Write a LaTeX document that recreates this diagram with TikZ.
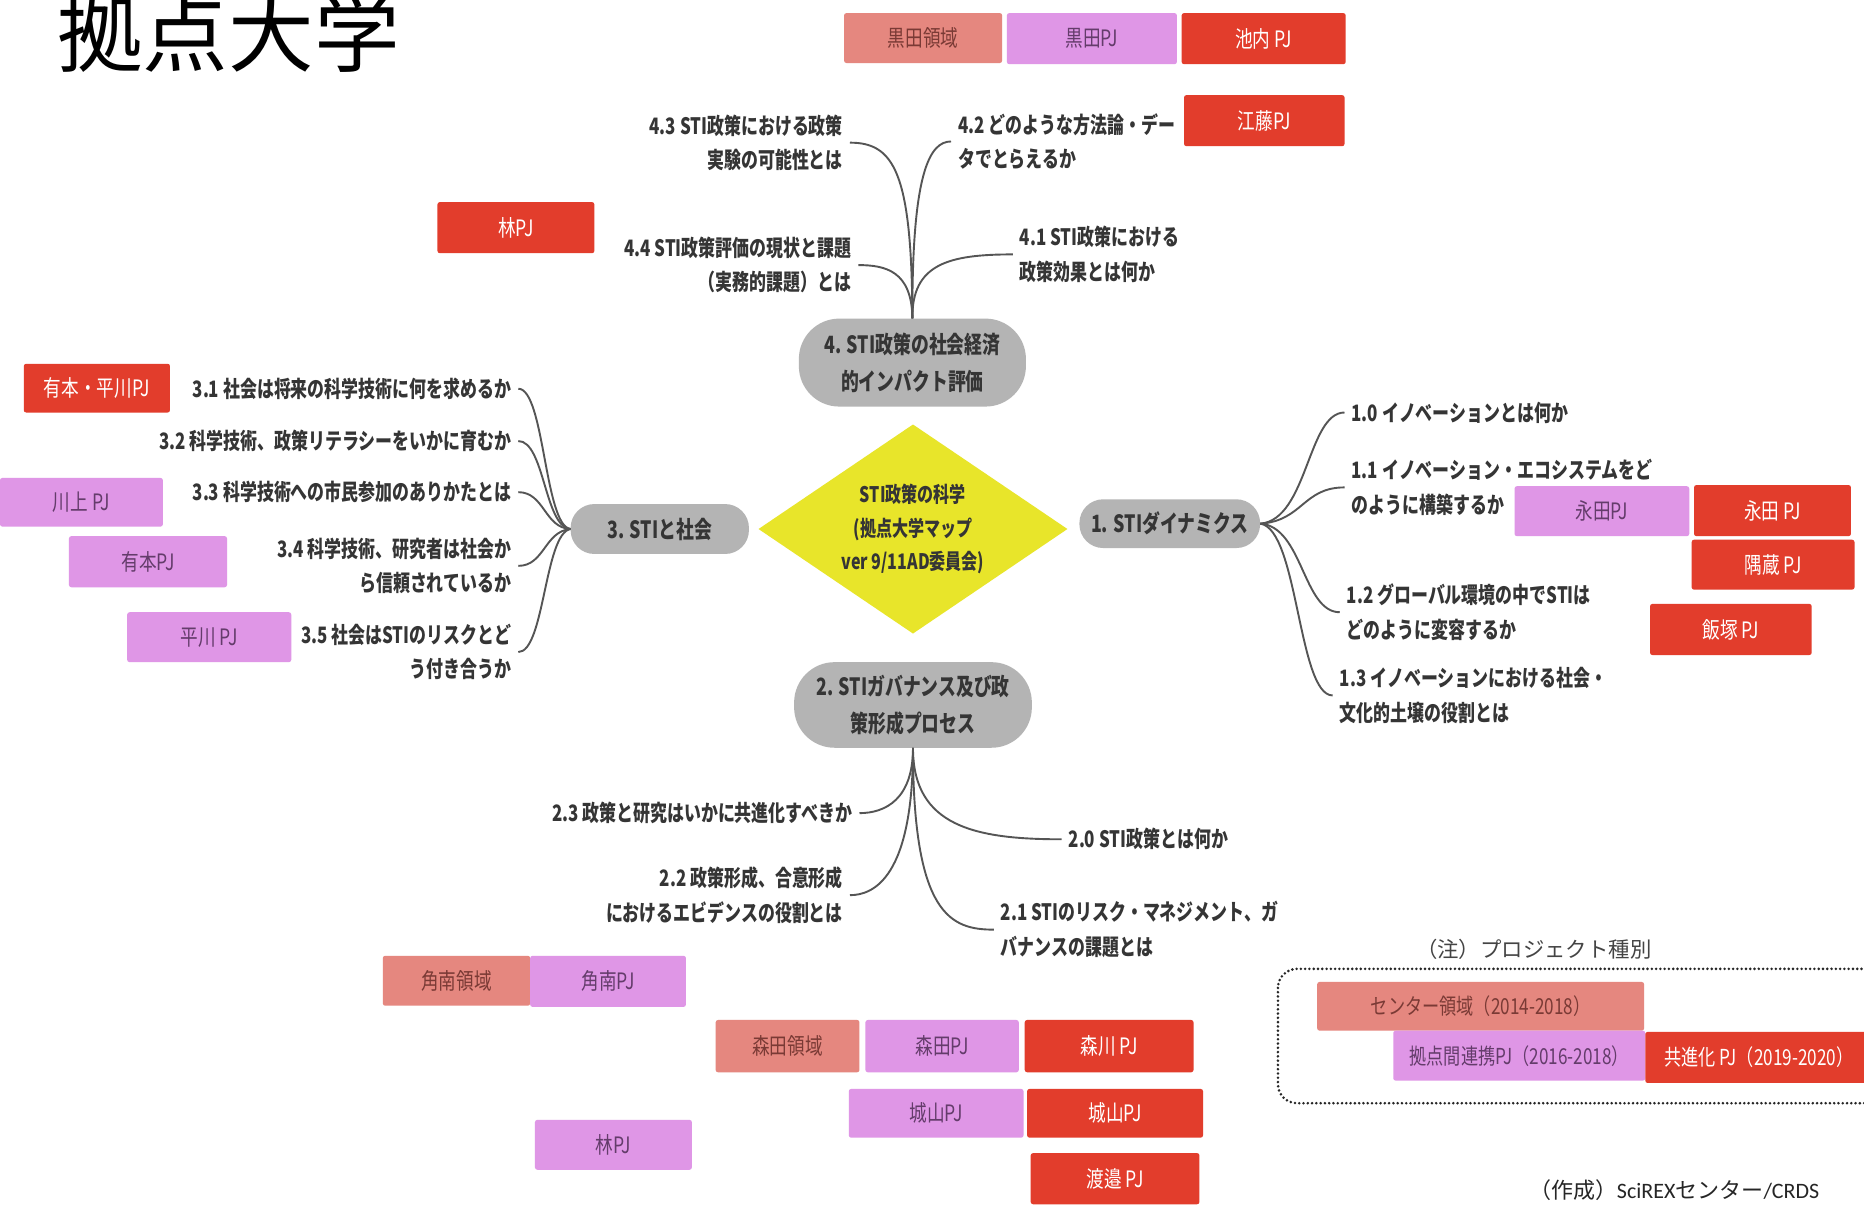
\documentclass[tikz,border=0pt]{standalone}
\usepackage{fontspec}
\newfontfamily\jc[FakeStretch=0.78]{Noto Sans CJK JP}
\newfontfamily\jcs[FakeStretch=0.75]{Noto Sans CJK JP}
\newfontfamily\jn{Noto Sans CJK JP}
\newfontfamily\lat{Carlito}
\usetikzlibrary{shapes.geometric}
\definecolor{salmon}{HTML}{E5877F}
\definecolor{violetpj}{HTML}{DF96E6}
\definecolor{redpj}{HTML}{E23D2C}
\definecolor{topicgray}{HTML}{B4B4B4}
\definecolor{txt}{HTML}{353535}
\definecolor{diayel}{HTML}{E8E52A}
\definecolor{linegray}{HTML}{555555}
\definecolor{salmontext}{HTML}{7A3A35}
\definecolor{viotext}{HTML}{643C6B}
\definecolor{notegray}{HTML}{444444}
\tikzset{
  pjbox/.style={draw=none, rounded corners=2pt, inner sep=0pt, font=\jc\fontsize{19}{22}\selectfont},
  salbox/.style={pjbox, fill=salmon, text=salmontext},
  viobox/.style={pjbox, fill=violetpj, text=viotext},
  redbox/.style={pjbox, fill=redpj, text=white},
  sz/.style 2 args={minimum width=#1pt, minimum height=#2pt},
  topic/.style={fill=topicgray, inner sep=0pt, align=center, text=txt, font=\jcs\bfseries\fontsize{20}{31}\selectfont},
  sub/.style={font=\jcs\bfseries\fontsize{19}{29}\selectfont, text=txt, inner sep=0pt, outer xsep=6pt, outer ysep=0pt},
  subL/.style={sub, anchor=east, align=right},
  subR/.style={sub, anchor=west, align=left},
  conn/.style={draw=linegray, line width=1.6pt}
}
\begin{document}
\begin{tikzpicture}[x=1pt, y=-1pt]
\useasboundingbox (0,0) rectangle (1568,1018);
\fill[white] (0,0) rectangle (1568,1018);

% title
\node[anchor=base west, inner sep=0pt, font=\jn\fontsize{72}{72}\selectfont] (title) at (48,55) {拠点大学};

% centre
\node[diamond, fill=diayel, minimum width=260pt, minimum height=176pt, inner sep=0pt, aspect=1.48, align=center, text=txt, font=\jcs\bfseries\fontsize{18}{28.5}\selectfont] (core) at (768,445) {STI政策の科学\\(拠点大学マップ\\ver 9/11AD委員会)};

% topics
\node[topic, rounded corners=34pt, sz={191}{74}] (t4) at (767.5,305) {4. STI政策の社会経済\\的インパクト評価};
\node[topic, rounded corners=20pt, sz={150}{42}] (t3) at (555,445) {3. STIと社会};
\node[topic, rounded corners=20pt, sz={152}{41}] (t1) at (984,440.5) {1. STIダイナミクス};
\node[topic, rounded corners=34pt, sz={200}{72}] (t2) at (768,593) {2. STIガバナンス及び政\\策形成プロセス};

% topic 4 subtopics
\node[subL] (s43) at (715,120) {4.3 STI政策における政策\\実験の可能性とは};
\node[subL] (s44) at (722,223) {4.4 STI政策評価の現状と課題\\（実務的課題）とは};
\node[subR] (s42) at (800,119) {4.2 どのような方法論・デー\\タでとらえるか};
\node[subR] (s41) at (852,214) {4.1 STI政策における\\政策効果とは何か};
\draw[conn] (t4.north) .. controls (767,145) and (752,120) .. (s43.east);
\draw[conn] (t4.north) .. controls (767,145) and (782,119) .. (s42.west);
\draw[conn] (t4.north) .. controls (767,228) and (745,223) .. (s44.east);
\draw[conn] (t4.north) .. controls (767,222) and (798,214) .. (s41.west);

% topic 3 subtopics
\node[subL] (s31) at (436,327) {3.1 社会は将来の科学技術に何を求めるか};
\node[subL] (s32) at (436,371) {3.2 科学技術、政策リテラシーをいかに育むか};
\node[subL] (s33) at (436,414) {3.3 科学技術への市民参加のありかたとは};
\node[subL] (s34) at (436,476) {3.4 科学技術、研究者は社会か\\ら信頼されているか};
\node[subL] (s35) at (436,548.5) {3.5 社会はSTIのリスクとど\\う付き合うか};
\draw[conn] (t3.west) .. controls (458,442) and (458,327) .. (s31.east);
\draw[conn] (t3.west) .. controls (458,443) and (458,371) .. (s32.east);
\draw[conn] (t3.west) .. controls (458,444) and (458,414) .. (s33.east);
\draw[conn] (t3.west) .. controls (458,447) and (458,476) .. (s34.east);
\draw[conn] (t3.west) .. controls (458,449) and (458,548.5) .. (s35.east);

% topic 1 subtopics
\node[subR] (s10) at (1131,347) {1.0 イノベーションとは何か};
\node[subR] (s11) at (1131,410) {1.1 イノベーション・エコシステムをど\\のように構築するか};
\node[subR] (s12) at (1127,515) {1.2 グローバル環境の中でSTIは\\どのように変容するか};
\node[subR] (s13) at (1121,585) {1.3 イノベーションにおける社会・\\文化的土壌の役割とは};
\draw[conn] (t1.east) .. controls (1100,437) and (1100,347) .. (s10.west);
\draw[conn] (t1.east) .. controls (1096,438) and (1096,410) .. (s11.west);
\draw[conn] (t1.east) .. controls (1096,443) and (1096,515) .. (s12.west);
\draw[conn] (t1.east) .. controls (1092,445) and (1092,585) .. (s13.west);

% topic 2 subtopics
\node[subL] (s23) at (723,684) {2.3 政策と研究はいかに共進化すべきか};
\node[subR] (s20) at (893,706) {2.0 STI政策とは何か};
\node[subL] (s22) at (715,753) {2.2 政策形成、合意形成\\におけるエビデンスの役割とは};
\node[subR] (s21) at (836,782) {2.1 STIのリスク・マネジメント、ガ\\バナンスの課題とは};
\draw[conn] (t2.south) .. controls (768,672) and (745,684) .. (s23.east);
\draw[conn] (t2.south) .. controls (768,695) and (820,706) .. (s20.west);
\draw[conn] (t2.south) .. controls (768,738) and (735,753) .. (s22.east);
\draw[conn] (t2.south) .. controls (768,770) and (800,782) .. (s21.west);

% project boxes top
\node[salbox, sz={133}{42}] (kurodaR) at (776.5,32) {黒田領域};
\node[viobox, sz={143}{43}] (kurodaP) at (918.5,32.5) {黒田PJ};
\node[redbox, sz={138}{43}] (ikeuchi) at (1063,32.5) {池内 PJ};
\node[redbox, sz={135}{43}] (eto) at (1063.5,101.5) {江藤PJ};
\node[redbox, sz={132}{43}] (hayashiR) at (434,191.5) {林PJ};

% left
\node[redbox, sz={123}{41}] (arihira) at (81.5,326.5) {有本・平川PJ};
\node[viobox, sz={137}{41}] (kawakami) at (68.5,422.5) {川上 PJ};
\node[viobox, sz={133}{43}] (arimoto) at (124.5,472.5) {有本PJ};
\node[viobox, sz={138}{42}] (hirakawa) at (176,536) {平川 PJ};

% right
\node[viobox, sz={147}{42}] (nagataV) at (1347.5,430) {永田PJ};
\node[redbox, sz={132}{43}] (nagataR) at (1491,429.5) {永田 PJ};
\node[redbox, sz={137}{42}] (sumikura) at (1491.5,475) {隅蔵 PJ};
\node[redbox, sz={136}{43}] (iizuka) at (1456,529.5) {飯塚 PJ};

% bottom
\node[salbox, sz={124}{42}] (sunamiR) at (384,825) {角南領域};
\node[viobox, sz={131}{43}] (sunamiP) at (511.5,825.5) {角南PJ};
\node[salbox, sz={121}{44}] (moritaR) at (662.5,880) {森田領域};
\node[viobox, sz={129}{44}] (moritaP) at (792.5,880) {森田PJ};
\node[redbox, sz={142}{44}] (morikawa) at (933,880) {森川 PJ};
\node[viobox, sz={147}{41}] (shiroV) at (787.5,936.5) {城山PJ};
\node[redbox, sz={148}{41}] (shiroR) at (938,936.5) {城山PJ};
\node[viobox, sz={132}{42}] (hayashiV) at (516,963) {林PJ};
\node[redbox, sz={142}{43}] (watanabe) at (938,991.5) {渡邉 PJ};

% legend
\node[anchor=west, inner sep=0pt, text=notegray, font=\jn\fontsize{18}{18}\selectfont] (note) at (1191,799) {（注）プロジェクト種別};
\draw[line width=2.4pt, draw=black!85, dash pattern=on 0pt off 3.6pt, line cap=round, rounded corners=16pt] (1075,815) rectangle (1620,928);
\node[salbox, sz={275}{41}, font=\jc\fontsize{18.5}{22}\selectfont] (legC) at (1245.5,846.5) {センター領域（2014-2018）};
\node[viobox, sz={212}{42}, font=\jc\fontsize{18.5}{22}\selectfont] (legK) at (1278,888) {拠点間連携PJ（2016-2018）};
\node[redbox, sz={191}{43}, font=\jc\fontsize{18.5}{22}\selectfont] (legR) at (1479.5,889.5) {共進化 PJ（2019-2020）};

\node[anchor=west, inner sep=0pt, text=black!85, font=\fontsize{18.5}{18.5}\selectfont] (credit) at (1286,1001) {{\jn （作成）}{\lat SciREX}{\jn センター}{\lat /CRDS}};
\end{tikzpicture}
\end{document}
